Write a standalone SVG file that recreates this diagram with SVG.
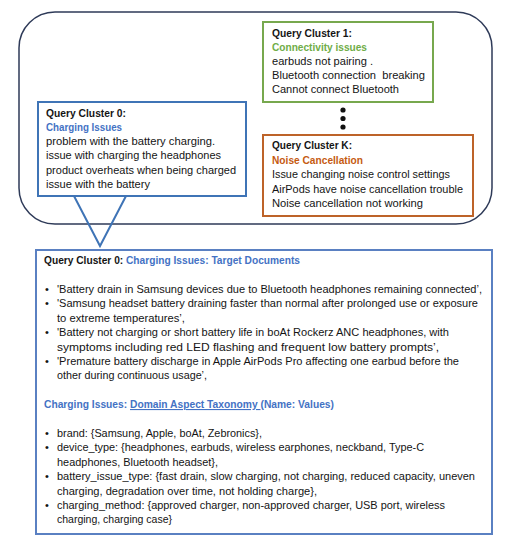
<svg xmlns="http://www.w3.org/2000/svg" width="514" height="543" viewBox="0 0 514 543">
<style>
text{font-family:"Liberation Sans",Arial,sans-serif;font-size:11px;fill:#141414}
.b{font-weight:bold}
.blue{fill:#4472c4}
.green{fill:#70ad47}
.orange{fill:#c55a11}
.box{fill:#fff;stroke-width:2}
.dot{fill:#111}
</style>
<rect width="514" height="543" fill="#fff"/>
<g id="container">
<rect x="19" y="12" width="473" height="212" rx="36" fill="none" stroke="#2e3a58" stroke-width="1.5"/>
</g>
<g id="cluster1">
<rect class="box" x="263" y="22" width="170" height="80" stroke="#77a84e"/>
<text x="272" y="37" class="b" textLength="80" lengthAdjust="spacingAndGlyphs">Query Cluster 1:</text>
<text x="272" y="51" class="b green" textLength="95" lengthAdjust="spacingAndGlyphs">Connectivity issues</text>
<text x="272" y="65" textLength="101" lengthAdjust="spacingAndGlyphs">earbuds not pairing .</text>
<text x="272" y="79" textLength="153" lengthAdjust="spacingAndGlyphs" xml:space="preserve">Bluetooth connection  breaking</text>
<text x="272" y="93" textLength="127" lengthAdjust="spacingAndGlyphs">Cannot connect Bluetooth</text>
</g>
<g id="ellipsis">
<circle class="dot" cx="343" cy="110" r="2.6"/>
<circle class="dot" cx="343" cy="118.5" r="2.6"/>
<circle class="dot" cx="343" cy="127" r="2.6"/>
</g>
<g id="clusterK">
<rect class="box" x="263" y="135" width="210" height="81" stroke="#bd6329"/>
<text x="272" y="149" class="b" textLength="80" lengthAdjust="spacingAndGlyphs">Query Cluster K:</text>
<text x="272" y="164" class="b orange" textLength="91" lengthAdjust="spacingAndGlyphs">Noise Cancellation</text>
<text x="272" y="178" textLength="178" lengthAdjust="spacingAndGlyphs">Issue changing noise control settings</text>
<text x="272" y="193" textLength="191" lengthAdjust="spacingAndGlyphs">AirPods have noise cancellation trouble</text>
<text x="272" y="207" textLength="151" lengthAdjust="spacingAndGlyphs">Noise cancellation not working</text>
</g>
<g id="cluster0">
<rect class="box" x="38" y="102" width="208" height="94" stroke="#3f74b6"/>
<text x="46" y="116.5" class="b" textLength="80" lengthAdjust="spacingAndGlyphs">Query Cluster 0:</text>
<text x="46" y="131" class="b blue" textLength="76" lengthAdjust="spacingAndGlyphs">Charging Issues</text>
<text x="46" y="145" textLength="169" lengthAdjust="spacingAndGlyphs">problem with the battery charging.</text>
<text x="46" y="159" textLength="175" lengthAdjust="spacingAndGlyphs">issue with charging the headphones</text>
<text x="46" y="173.5" textLength="190" lengthAdjust="spacingAndGlyphs">product overheats when being charged</text>
<text x="46" y="187.5" textLength="104" lengthAdjust="spacingAndGlyphs">issue with the battery</text>
</g>
<g id="connectors">
<polyline points="74,196 100,246 126,196" fill="none" stroke="#3f74b6" stroke-width="2"/>
</g>
<g id="target-documents">
<rect class="box" x="36" y="250" width="456" height="284" stroke="#5a80c2"/>
<text x="44" y="264" class="b" textLength="256" lengthAdjust="spacingAndGlyphs" xml:space="preserve">Query Cluster 0: <tspan class="blue">Charging Issues: Target Documents</tspan></text>
<text x="45" y="293">•</text>
<text x="57" y="293" textLength="425" lengthAdjust="spacingAndGlyphs">'Battery drain in Samsung devices due to Bluetooth headphones remaining connected’,</text>
<text x="45" y="307.4">•</text>
<text x="57" y="307.4" textLength="421" lengthAdjust="spacingAndGlyphs">'Samsung headset battery draining faster than normal after prolonged use or exposure</text>
<text x="57" y="321.8" textLength="128" lengthAdjust="spacingAndGlyphs">to extreme temperatures’,</text>
<text x="45" y="336.2">•</text>
<text x="57" y="336.2" textLength="392" lengthAdjust="spacingAndGlyphs">'Battery not charging or short battery life in boAt Rockerz ANC headphones, with</text>
<text x="57" y="350.6" textLength="382" lengthAdjust="spacingAndGlyphs">symptoms including red LED flashing and frequent low battery prompts’,</text>
<text x="45" y="365">•</text>
<text x="57" y="365" textLength="402" lengthAdjust="spacingAndGlyphs">'Premature battery discharge in Apple AirPods Pro affecting one earbud before the</text>
<text x="57" y="379.4" textLength="150" lengthAdjust="spacingAndGlyphs">other during continuous usage’,</text>
</g>
<g id="taxonomy">
<text x="44" y="408" class="b blue" textLength="290" lengthAdjust="spacingAndGlyphs" xml:space="preserve">Charging Issues: <tspan text-decoration="underline">Domain Aspect Taxonomy </tspan>(Name: Values)</text>
<text x="45" y="437">•</text>
<text x="57" y="437" textLength="205" lengthAdjust="spacingAndGlyphs">brand: {Samsung, Apple, boAt, Zebronics},</text>
<text x="45" y="451.4">•</text>
<text x="57" y="451.4" textLength="367" lengthAdjust="spacingAndGlyphs">device_type: {headphones, earbuds, wireless earphones, neckband, Type-C</text>
<text x="57" y="465.8" textLength="161" lengthAdjust="spacingAndGlyphs">headphones, Bluetooth headset},</text>
<text x="45" y="480.2">•</text>
<text x="57" y="480.2" textLength="418" lengthAdjust="spacingAndGlyphs">battery_issue_type: {fast drain, slow charging, not charging, reduced capacity, uneven</text>
<text x="57" y="494.6" textLength="260" lengthAdjust="spacingAndGlyphs">charging, degradation over time, not holding charge},</text>
<text x="45" y="509">•</text>
<text x="57" y="509" textLength="388" lengthAdjust="spacingAndGlyphs">charging_method: {approved charger, non-approved charger, USB port, wireless</text>
<text x="57" y="523.4" textLength="115" lengthAdjust="spacingAndGlyphs">charging, charging case}</text>
</g>
</svg>
